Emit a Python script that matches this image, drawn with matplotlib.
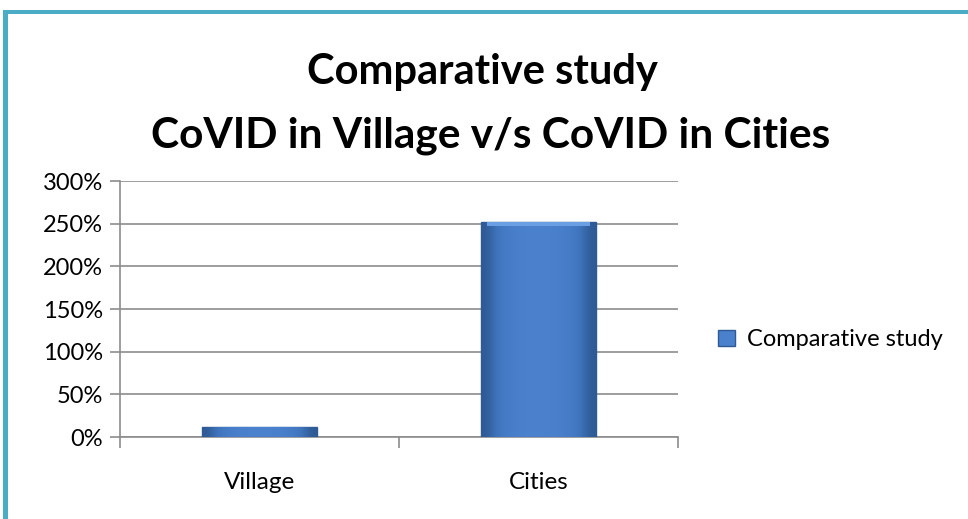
import numpy as np
import matplotlib.pyplot as plt
from matplotlib.patches import Rectangle
from matplotlib.colors import LinearSegmentedColormap
from matplotlib.ticker import FuncFormatter

# chart data
categories = ['Village', 'Cities']
values = [12, 252]          # percent
series_name = 'Comparative study'
yticks = [0, 50, 100, 150, 200, 250, 300]

plt.rcParams['font.family'] = ['Lato', 'DejaVu Sans']

fig = plt.figure(figsize=(9.68, 5.19), dpi=100)
fig.patch.set_facecolor('white')

# teal frame on left and top, like the office chart box
fig.add_artist(Rectangle((3/968, -0.1), 5/968, 1.1 - 10/519, transform=fig.transFigure,
                         color='#4BACC6', lw=0, zorder=0))
fig.add_artist(Rectangle((3/968, 1 - 14/519), 1.0, 4/519, transform=fig.transFigure,
                         color='#4BACC6', lw=0, zorder=0))

ax = fig.add_axes([120/968, 1 - 437/519, 558/968, 256/519])

x = np.arange(len(categories))
bars = ax.bar(x, values, width=0.41, color='#4A80CC', edgecolor='#2F5A95', linewidth=1.0,
              label=series_name, zorder=3)

# horizontal shading inside each bar (darker at the sides)
bar_cmap = LinearSegmentedColormap.from_list('bevel', ['#2E5A94', '#3F74BC', '#4A80CC'])
shade = np.array([0.0, 0.6, 0.9, 1.0, 1.0, 1.0, 1.0, 0.9, 0.6, 0.0])[None, :]
for b in bars:
    im = ax.imshow(shade, cmap=bar_cmap, vmin=0, vmax=1, aspect='auto',
                   extent=(b.get_x(), b.get_x() + b.get_width(), 0, b.get_height()),
                   zorder=3.5, interpolation='bicubic')
    im.set_clip_path(b)
    h = b.get_height()
    cap = min(h * 0.05, 5)
    ax.bar(b.get_x() + b.get_width() / 2, cap, bottom=h - cap,
           width=b.get_width() * 0.9, color='#6A9FE3', linewidth=0, zorder=4)
ax.set_aspect('auto')

ax.set_xlim(-0.5, len(categories) - 0.5)
ax.set_ylim(0, 300)
ax.set_yticks(yticks)
ax.yaxis.set_major_formatter(FuncFormatter(lambda v, p: f'{v:.0f}%'))
ax.grid(axis='y', color='#8C8C8C', linewidth=1.2, zorder=0)

ax.set_xticks(x)
ax.set_xticklabels(categories)
ax.set_xticks([-0.5, 0.5, 1.5], minor=True)
ax.tick_params(axis='x', which='major', length=0, pad=25, labelsize=17.5)
ax.tick_params(axis='x', which='minor', length=8, color='#8C8C8C', width=1.2)
ax.tick_params(axis='y', length=7, color='#8C8C8C', width=1.2, labelsize=17, pad=5)

for s in ['top', 'right']:
    ax.spines[s].set_visible(False)
ax.spines['left'].set_color('#8C8C8C')
ax.spines['left'].set_linewidth(1.2)
ax.spines['bottom'].set_color('#8C8C8C')
ax.spines['bottom'].set_linewidth(1.2)

fig.text(482/968, 1 - 72/519, 'Comparative study', ha='center', va='center',
         fontsize=30, fontweight='bold')
fig.text(491/968, 1 - 136/519, 'CoVID in Village v/s CoVID in Cities', ha='center', va='center',
         fontsize=30.5, fontweight='bold')

ax.legend(handles=[bars], labels=[series_name], loc='center left', bbox_to_anchor=(697/968, 1 - 340/519),
          bbox_transform=fig.transFigure, frameon=False, fontsize=17, handlelength=0.7,
          handleheight=0.7, handletextpad=0.5)

fig.savefig('out.png', dpi=100)
